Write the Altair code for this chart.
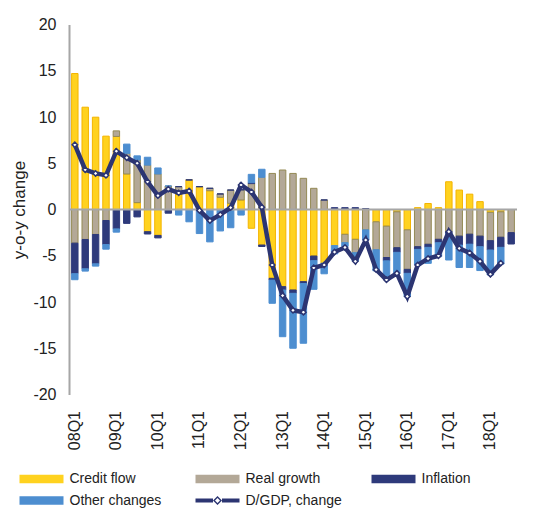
import altair as alt
import pandas as pd

quarters = [
    "08Q1", "08Q2", "08Q3", "08Q4", "09Q1", "09Q2", "09Q3", "09Q4",
    "10Q1", "10Q2", "10Q3", "10Q4", "11Q1", "11Q2", "11Q3", "11Q4",
    "12Q1", "12Q2", "12Q3", "12Q4", "13Q1", "13Q2", "13Q3", "13Q4",
    "14Q1", "14Q2", "14Q3", "14Q4", "15Q1", "15Q2", "15Q3", "15Q4",
    "16Q1", "16Q2", "16Q3", "16Q4", "17Q1", "17Q2", "17Q3", "17Q4",
    "18Q1", "18Q2", "18Q3",
]
tick_labels = ["08Q1", "09Q1", "10Q1", "11Q1", "12Q1", "13Q1", "14Q1",
               "15Q1", "16Q1", "17Q1", "18Q1"]

credit_flow = [14.7, 11.06, 9.98, 7.93, 7.9, 3.84, 0.74, -2.4, -2.8, 0.0,
               1.68, 3.2, 2.47, 2.03, 1.32, 0.67, 1.03, -2.03, -3.84, -7.44,
               -8.34, -8.7, -7.8, -5.03, -5.8, -3.9, -2.68, -3.22, 0.0, -1.33,
               -1.8, -0.25, -2.2, 0.2, 0.65, 0.2, 3.0, 2.1, 1.66, 0.85,
               -0.3, -0.25, 0.0]
real_growth = [-3.64, -3.24, -2.7, -1.19, 0.6, 2.23, 4.61, 4.8, 3.84, 2.54,
               0.79, 0.0, 0.0, 0.26, 0.36, 1.43, 1.1, 2.8, 3.48, 3.9,
               4.27, 3.9, 3.37, 2.29, 1.03, 0.0, -0.9, -1.45, -2.2, -3.02,
               -3.39, -3.88, -4.27, -4.02, -3.76, -3.22, -2.4, -2.88, -2.67, -2.88,
               -3.07, -2.75, -2.5]
inflation = [-3.3, -3.17, -3.17, -2.6, -2.1, -1.5, -0.8, -0.25, -0.27, -0.4,
             0.0, 0.0, 0.0, 0.0, 0.0, 0.0, 0.0, 0.1, -0.16, -0.2,
             -0.36, -0.36, -0.2, -0.5, 0.0, 0.2, 0.2, 0.2, 0.1, 0.0,
             -0.36, -0.5, -0.43, -0.29, -0.33, -0.37, -0.2, -0.97, -1.08, -1.14,
             -1.01, -1.09, -1.23]
other_changes = [-0.65, -0.25, -0.25, -0.5, -0.35, 1.0, 0.45, 0.85, 0.65, 0.0,
                 -0.6, -1.33, -2.6, -3.5, -2.32, -1.97, -0.6, 0.9, 0.87, -2.5,
                 -5.05, -5.94, -6.46, -3.1, -1.15, -0.9, -0.41, -0.9, -1.1, -2.28,
                 -1.89, -2.27, -2.52, -1.69, -1.73, -1.51, -2.86, -2.42, -2.52, -2.58,
                 -2.7, -1.81, 0.0]
dgdp_change = [7.0, 4.3, 3.9, 3.7, 6.3, 5.6, 5.0, 3.0, 1.5, 2.2,
               1.8, 2.0, -0.1, -1.2, -0.55, 0.2, 2.65, 1.9, 0.25, -6.0,
               -9.3, -10.9, -11.1, -6.3, -6.0, -4.6, -4.1, -5.6, -3.3, -6.5,
               -7.6, -6.9, -9.4, -6.0, -5.3, -5.0, -2.4, -4.2, -4.7, -5.6,
               -7.0, -5.8]

series_names = ["Credit flow", "Real growth", "Inflation", "Other changes"]
line_name = "D/GDP, change"
fill_colors = ["#FFD21F", "#B3A897", "#2E3A7B", "#4D8ED0"]
stroke_colors = ["#F4B400", "#948A55", "#2E3A7B", "#4D8ED0"]
NAVY = "#2C3572"
GRAY = "#A6A6A6"
FONT = "Liberation Sans"
TXT = "#222222"

series_values = [credit_flow, real_growth, inflation, other_changes]
rows = []
for i, q in enumerate(quarters):
    for k, name in enumerate(series_names):
        rows.append({"q": q, "series": name, "ord": k, "value": series_values[k][i]})
bars_df = pd.DataFrame(rows)
line_df = pd.DataFrame({
    "q": quarters[:len(dgdp_change)],
    "value": dgdp_change,
    "series": [line_name] * len(dgdp_change),
})
zero_df = pd.DataFrame({"v": [0]})

RECT_PATH = "M-1,-0.85H7.8V0.85H-1Z"
LINE_PATH = ("M-1,-0.4H2.5V0.4H-1Z M4.3,-0.4H7.8V0.4H4.3Z "
             "M3.4,-0.9L4.3,0L3.4,0.9L2.5,0Z M3.4,-0.5L2.9,0L3.4,0.5L3.9,0Z")

x_enc = alt.X(
    "q:N", sort=quarters, title=None,
    scale=alt.Scale(domain=quarters, paddingInner=0.38, paddingOuter=0.25),
    axis=alt.Axis(values=tick_labels, labelAngle=-90, domain=False, ticks=False,
                  labelPadding=16, labelFontSize=16, labelFont=FONT,
                  labelColor=TXT, grid=False),
)
y_scale = alt.Scale(domain=[-20, 20], nice=False, zero=False)

legend_x = -51.5
bars = alt.Chart(bars_df).mark_bar(strokeWidth=1).encode(
    x=x_enc,
    y=alt.Y("value:Q", stack="zero", scale=y_scale, title="y-o-y change",
            axis=alt.Axis(values=list(range(-20, 25, 5)), grid=False, ticks=False,
                          labelExpr="datum.value < 0 ? '-' + abs(datum.value) : '' + datum.value",
                          domainColor=GRAY, domainWidth=2, labelFontSize=16,
                          labelFont=FONT, labelColor=TXT, labelPadding=13,
                          titleFont=FONT, titleFontSize=17, titleFontWeight="normal",
                          titleColor=TXT, titlePadding=4)),
    color=alt.Color("series:N",
                    scale=alt.Scale(domain=series_names, range=fill_colors),
                    legend=alt.Legend(title=None, orient="none", legendX=legend_x,
                                      legendY=447.5, columns=3, gridAlign="all",
                                      direction="horizontal",
                                      values=series_names,
                                      columnPadding=32, rowPadding=7.5,
                                      symbolType=RECT_PATH, symbolSize=100,
                                      symbolStrokeWidth=0,
                                      labelOffset=38, labelFontSize=14, labelFont=FONT,
                                      labelColor=TXT, padding=0, labelLimit=300)),
    stroke=alt.Stroke("series:N",
                      scale=alt.Scale(domain=series_names, range=stroke_colors),
                      legend=None),
    order=alt.Order("ord:Q", sort="ascending"),
)

zero_rule = alt.Chart(zero_df).mark_rule(color=GRAY, strokeWidth=2).encode(
    y=alt.Y("v:Q", scale=y_scale)
)

legend_line = alt.Chart(line_df).mark_line(color=NAVY, strokeWidth=0.5).encode(
    x=alt.X("q:N", sort=quarters),
    y=alt.Y("value:Q", scale=y_scale),
    strokeDash=alt.StrokeDash("series:N",
                              scale=alt.Scale(domain=[line_name], range=[[1, 0]]),
                              legend=alt.Legend(title=None, orient="none",
                                                legendX=legend_x + 176, legendY=469,
                                                symbolType=LINE_PATH, symbolSize=100,
                                                symbolFillColor=NAVY,
                                                symbolStrokeColor="transparent",
                                                symbolStrokeWidth=0,
                                                labelOffset=38, labelFontSize=14,
                                                labelFont=FONT, labelColor=TXT,
                                                padding=0, labelLimit=300)),
)

line = alt.Chart(line_df).mark_line(color=NAVY, strokeWidth=4.5).encode(
    x=alt.X("q:N", sort=quarters),
    y=alt.Y("value:Q", scale=y_scale),
)

points = alt.Chart(line_df).mark_point(shape="diamond", filled=True, fill="white",
                                       stroke=NAVY, strokeWidth=1.5, size=28,
                                       opacity=1).encode(
    x=alt.X("q:N", sort=quarters),
    y=alt.Y("value:Q", scale=y_scale),
)

chart = alt.layer(bars, zero_rule, legend_line, line, points).properties(
    width=448, height=370,
    autosize=alt.AutoSizeParams(type="none"),
    padding={"left": 61, "top": 16.5, "right": 10, "bottom": 113.5},
).configure_view(stroke=None)

chart.save("out.html", embed_options={"renderer": "svg", "actions": False})
